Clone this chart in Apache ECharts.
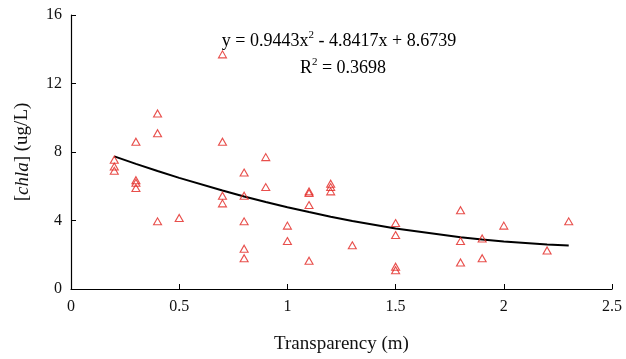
<!DOCTYPE html>
<html>
<head>
<meta charset="utf-8">
<script src="https://cdn.jsdelivr.net/npm/echarts@6/dist/echarts.min.js"></script>
<style>
  html, body { margin: 0; padding: 0; background: #fff; }
  #chart { width: 626px; height: 359px; }
</style>
</head>
<body>
<div id="chart"></div>
<script>
// Secchi transparency (m) against chlorophyll-a (ug/L)
const transparency = [
  0.2, 0.2, 0.2,
  0.3, 0.3, 0.3, 0.3,
  0.4, 0.4, 0.4,
  0.5,
  0.7, 0.7, 0.7, 0.7,
  0.8, 0.8, 0.8, 0.8, 0.8,
  0.9, 0.9,
  1.0, 1.0,
  1.1, 1.1, 1.1, 1.1,
  1.2, 1.2, 1.2,
  1.3,
  1.5, 1.5, 1.5, 1.5,
  1.8, 1.8, 1.8,
  1.9, 1.9,
  2.0,
  2.2,
  2.3
];
const chla = [
  7.55, 7.15, 6.9,
  8.6, 6.35, 6.2, 5.9,
  10.25, 9.1, 3.95,
  4.15,
  13.7, 8.6, 5.45, 5.0,
  6.8, 5.45, 3.95, 2.35, 1.8,
  7.7, 5.95,
  3.7, 2.8,
  5.7, 5.6, 4.9, 1.65,
  6.15, 5.95, 5.7,
  2.55,
  3.85, 3.15, 1.3, 1.1,
  4.6, 2.8, 1.55,
  2.95, 1.8,
  3.7,
  2.25,
  3.95
];
// Quadratic trend: y = a x^2 + b x + c
const trendCoef = [0.9443, -4.8417, 8.6739];
const xTicks = [0, 0.5, 1, 1.5, 2, 2.5];
const yTicks = [0, 4, 8, 12, 16];

const points = transparency.map((x, i) => [x, chla[i]]);
const trendX = Array.from(new Set(transparency)).sort((a, b) => a - b);
const trend = trendX.map(x => [x, trendCoef[0] * x * x + trendCoef[1] * x + trendCoef[2]]);

const serif = '"Liberation Serif", "DejaVu Serif", serif';
const supRich = {
  n: { fontFamily: serif, fontSize: 18, color: '#111', lineHeight: 22 },
  s: { fontFamily: serif, fontSize: 11, color: '#111', verticalAlign: 'top', lineHeight: 22 }
};
const chart = echarts.init(document.getElementById('chart'), null, { renderer: 'canvas' });

chart.setOption({
  animation: false,
  backgroundColor: '#ffffff',
  grid: { left: 71, right: 14, top: 15, bottom: 66 },
  xAxis: {
    type: 'value',
    min: xTicks[0], max: xTicks[xTicks.length - 1], interval: 0.5,
    name: 'Transparency (m)',
    nameLocation: 'middle',
    nameGap: 46,
    nameTextStyle: { fontFamily: serif, fontSize: 19, color: '#111' },
    axisLine: { show: true, lineStyle: { color: '#000', width: 1.2 } },
    axisTick: { show: true, inside: true, length: 5, lineStyle: { color: '#000' } },
    axisLabel: { fontFamily: serif, fontSize: 16, color: '#111', margin: 10,
                 formatter: v => String(v) },
    splitLine: { show: false }
  },
  yAxis: {
    type: 'value',
    min: yTicks[0], max: yTicks[yTicks.length - 1], interval: 4,
    name: '[{i|chla}] (ug/L)',
    nameLocation: 'middle',
    nameGap: 39,
    nameTextStyle: {
      fontFamily: serif, fontSize: 19, color: '#111',
      rich: { i: { fontFamily: serif, fontSize: 19, fontStyle: 'italic', color: '#111' } }
    },
    axisLine: { show: true, lineStyle: { color: '#000', width: 1.2 } },
    axisTick: { show: true, inside: true, length: 5, lineStyle: { color: '#000' } },
    axisLabel: { fontFamily: serif, fontSize: 16, color: '#111', margin: 9 },
    splitLine: { show: false }
  },
  graphic: [
    { type: 'text', x: 339, y: 41,
      style: { text: '{n|y = 0.9443x}{s|2}{n| - 4.8417x + 8.6739}', rich: supRich,
               textAlign: 'center', textVerticalAlign: 'middle' } },
    { type: 'text', x: 343, y: 68,
      style: { text: '{n|R}{s|2}{n| = 0.3698}', rich: supRich,
               textAlign: 'center', textVerticalAlign: 'middle' } }
  ],
  series: [
    {
      type: 'line',
      data: trend,
      showSymbol: false,
      smooth: false,
      lineStyle: { color: '#000', width: 2 },
      z: 2
    },
    {
      type: 'scatter',
      data: points,
      symbol: 'triangle',
      symbolSize: [8, 7],
      itemStyle: { color: 'rgba(0,0,0,0)', borderColor: '#e2231f', borderWidth: 1.1 },
      z: 3
    }
  ]
});
</script>
</body>
</html>
